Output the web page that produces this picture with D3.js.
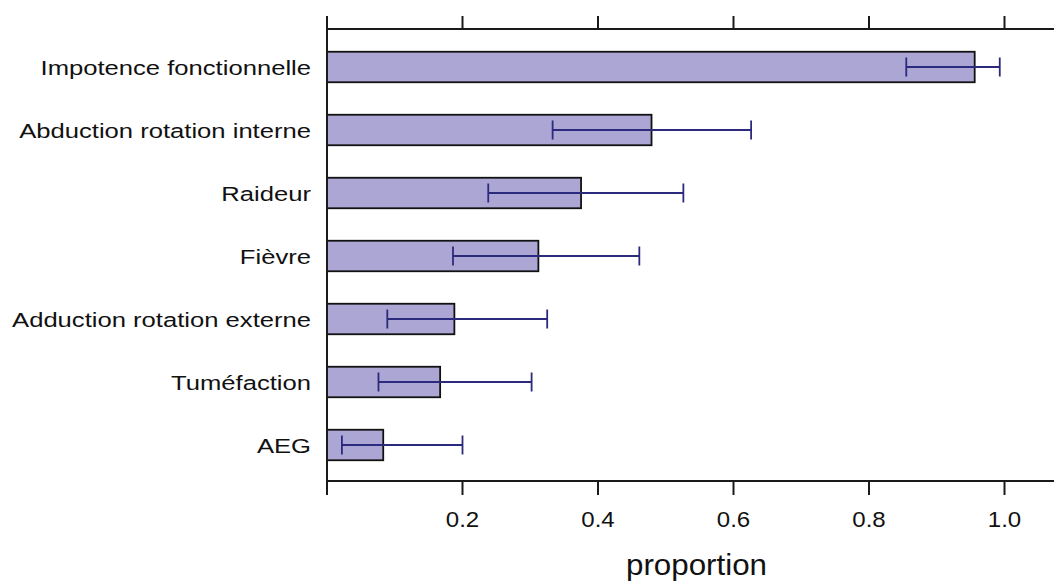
<!DOCTYPE html>
<html><head><meta charset="utf-8">
<script src="https://cdn.jsdelivr.net/npm/d3@7"></script>
<style>html,body{margin:0;padding:0;background:#fff;}svg{display:block;}</style>
</head><body>
<svg id="chart" width="1054" height="581"></svg>
<script>
const categories = ["Impotence fonctionnelle","Abduction rotation interne","Raideur","Fièvre","Adduction rotation externe","Tuméfaction","AEG"];
const proportions = [0.956, 0.479, 0.375, 0.312, 0.188, 0.167, 0.083];
const lowerCI = [0.855, 0.333, 0.238, 0.186, 0.089, 0.076, 0.022];
const upperCI = [0.993, 0.626, 0.526, 0.461, 0.325, 0.302, 0.200];
const tickValues = [0.2, 0.4, 0.6, 0.8, 1.0];
const tickLabels = ["0.2", "0.4", "0.6", "0.8", "1.0"];
const axisTitle = "proportion";

(function () {
const svg = d3.select("#chart");
const pLeft = 327, pTop = 29, pBottom = 481, pRight = 1054;
const x = d3.scaleLinear().domain([0, 1]).range([pLeft, 1004.5]);
const y = d3.scalePoint().domain(categories).range([67, 445]);
const barH = 30.5;
const font = "Liberation Sans, Arial, sans-serif";
const axisCol = "#1a1a1a";

// bars
svg.selectAll("rect.bar").data(categories).enter().append("rect")
  .attr("class", "bar")
  .attr("x", x(0))
  .attr("y", d => y(d) - barH/2)
  .attr("width", (d,i) => x(proportions[i]) - x(0))
  .attr("height", barH)
  .attr("fill", "#ABA6D3")
  .attr("stroke", "#111")
  .attr("stroke-width", 1.8);

// error bars
const ecol = "#2B2A7C";
const eg = svg.append("g").attr("stroke", ecol).attr("stroke-width", 1.8);
categories.forEach((c,i) => {
  eg.append("line").attr("x1", x(lowerCI[i])).attr("x2", x(upperCI[i])).attr("y1", y(c)).attr("y2", y(c));
  [lowerCI[i], upperCI[i]].forEach(v => {
    eg.append("line").attr("x1", x(v)).attr("x2", x(v)).attr("y1", y(c) - 9.5).attr("y2", y(c) + 9.5);
  });
});

// axes frame
const ag = svg.append("g").attr("stroke", axisCol).attr("stroke-width", 2);
ag.append("line").attr("x1", pLeft).attr("x2", pRight).attr("y1", pTop).attr("y2", pTop);
ag.append("line").attr("x1", pLeft).attr("x2", pRight).attr("y1", pBottom).attr("y2", pBottom);
ag.append("line").attr("x1", pLeft).attr("x2", pLeft).attr("y1", 16).attr("y2", 495);
tickValues.forEach(v => {
  ag.append("line").attr("x1", x(v)).attr("x2", x(v)).attr("y1", 16).attr("y2", pTop);
  ag.append("line").attr("x1", x(v)).attr("x2", x(v)).attr("y1", pBottom).attr("y2", 495);
});

// tick labels
tickValues.forEach((v,i) => {
  svg.append("text")
    .attr("transform", `translate(${x(v)},527) scale(1.12,1)`)
    .attr("text-anchor", "middle")
    .attr("font-family", font).attr("font-size", 21.5).attr("fill", "#111")
    .text(tickLabels[i]);
});

// category labels
categories.forEach(c => {
  svg.append("text")
    .attr("transform", `translate(311,${y(c) + 8}) scale(1.25,1)`)
    .attr("text-anchor", "end")
    .attr("font-family", font).attr("font-size", 20.5).attr("fill", "#111")
    .text(c);
});

// axis title
svg.append("text")
  .attr("transform", `translate(696.5,575) scale(1.08,1)`)
  .attr("text-anchor", "middle")
  .attr("font-family", font).attr("font-size", 29).attr("fill", "#111")
  .text(axisTitle);
})();
</script>
</body></html>
